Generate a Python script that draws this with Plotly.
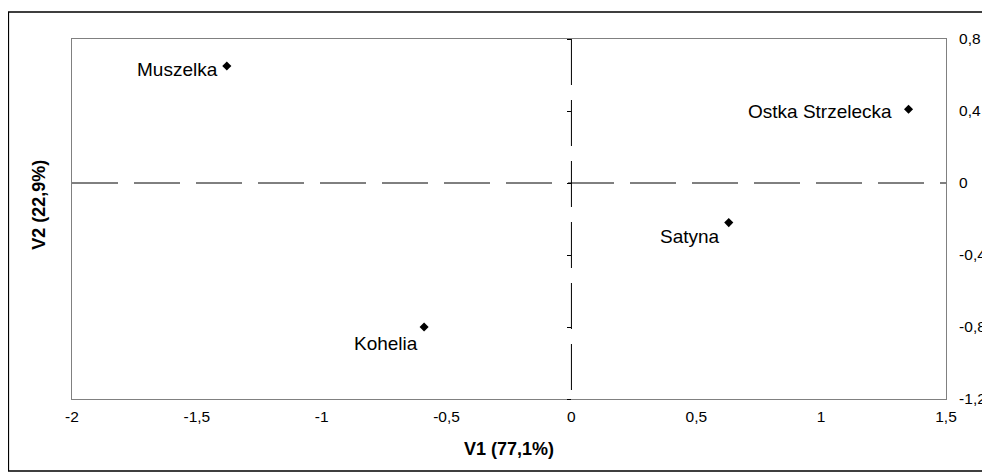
import plotly.graph_objects as go

# Data
cultivars = ["Muszelka", "Ostka Strzelecka", "Satyna", "Kohelia"]
v1 = [-1.38, 1.35, 0.63, -0.59]
v2 = [0.65, 0.41, -0.22, -0.80]

x_ticks = [-2, -1.5, -1, -0.5, 0, 0.5, 1, 1.5]
x_ticktext = ["-2", "-1,5", "-1", "-0,5", "0", "0,5", "1", "1,5"]
y_ticks = [0.8, 0.4, 0, -0.4, -0.8, -1.2]
y_ticktext = ["0,8", "0,4", "0", "-0,4", "-0,8", "-1,2"]

x_title = "V1 (77,1%)"
y_title = "V2 (22,9%)"

# label offsets (style, in pixels)
label_dx = [-7, -15, -7, -4]
label_dy = [-3, -2, -14, -16]

FONT = "Liberation Sans, Arial, sans-serif"

fig = go.Figure()
fig.add_trace(go.Scatter(
    x=v1, y=v2, mode="markers",
    marker=dict(symbol="diamond", size=7, color="black"),
    showlegend=False, hoverinfo="skip", cliponaxis=False,
))
# invisible trace carrying the tick axis at x=0
fig.add_trace(go.Scatter(x=[0], y=[0], yaxis="y2", mode="markers",
                         marker=dict(opacity=0), showlegend=False, hoverinfo="skip"))

# dashed reference lines
fig.add_shape(type="line", xref="x", yref="y", x0=-2, x1=1.5, y0=0, y1=0,
              line=dict(color="black", width=1, dash="46px,16px"), layer="above")
fig.add_shape(type="line", xref="x", yref="y", x0=0, x1=0, y0=0.8, y1=-1.2,
              line=dict(color="black", width=1, dash="46px,15px"), layer="above")

# outer chart border
fig.add_shape(type="rect", xref="paper", yref="paper",
              x0=-64 / 879, x1=1 + 38 / 879, y0=-72 / 360, y1=1 + 27 / 360,
              line=dict(color="black", width=1.5), layer="below")

annotations = []
for name, x, y, dx, dy in zip(cultivars, v1, v2, label_dx, label_dy):
    annotations.append(dict(text=name, x=x, y=y, xref="x", yref="y",
                            xanchor="right", yanchor="middle",
                            xshift=dx, yshift=dy, showarrow=False,
                            font=dict(size=19, color="black")))
annotations.append(dict(text="<b>" + y_title + "</b>", textangle=-90,
                        xref="paper", yref="paper", x=-34 / 879, y=0.54,
                        xanchor="center", yanchor="middle",
                        showarrow=False, font=dict(size=18)))
annotations.append(dict(text="<b>" + x_title + "</b>",
                        xref="paper", yref="paper", x=0.5, y=-50 / 360,
                        xanchor="center", yanchor="middle",
                        showarrow=False, font=dict(size=18)))

fig.update_layout(
    width=990, height=472,
    margin=dict(l=64, r=47, t=31, b=81),
    paper_bgcolor="white", plot_bgcolor="white",
    font=dict(family=FONT, size=13, color="black"),
    xaxis=dict(
        range=[-2, 1.5], tickvals=x_ticks, ticktext=x_ticktext,
        showgrid=False, zeroline=False, ticks="",
        showline=True, linecolor="#808080", linewidth=1, mirror=True,
        tickfont=dict(size=15.5), ticklabelstandoff=3,
    ),
    yaxis=dict(
        range=[-1.2, 0.8], tickvals=y_ticks, ticktext=y_ticktext, side="right",
        showgrid=False, zeroline=False, ticks="",
        showline=True, linecolor="#808080", linewidth=1, mirror=True,
        tickfont=dict(size=15.5), ticklabelstandoff=9,
    ),
    yaxis2=dict(
        overlaying="y", anchor="free", position=2 / 3.5, side="left",
        range=[-1.2, 0.8], tickvals=y_ticks, ticks="outside", ticklen=4,
        tickcolor="black", tickwidth=1, showticklabels=False,
        showgrid=False, zeroline=False, showline=False,
    ),
    annotations=annotations,
)

fig.write_html("out.html")
